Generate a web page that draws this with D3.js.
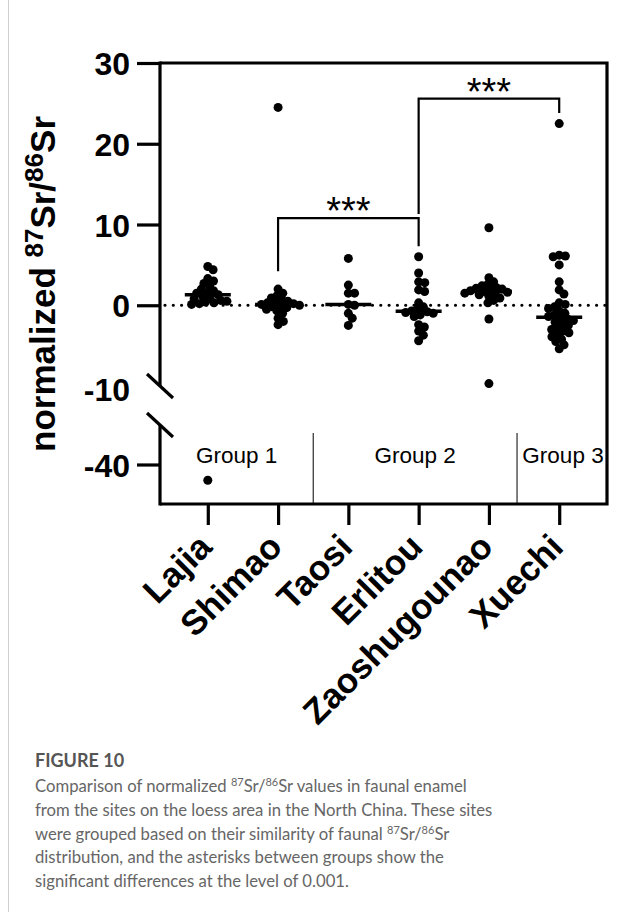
<!DOCTYPE html>
<html><head><meta charset="utf-8">
<script src="https://cdn.jsdelivr.net/npm/d3@7"></script>
<style>body{margin:0;background:#fff} svg{display:block}</style>
</head><body>
<svg id="c" width="617" height="912"></svg>
<script>
// ---------- data ----------
const sites = ["Lajia","Shimao","Taosi","Erlitou","Zaoshugounao","Xuechi"];
const lajia = [4.8,4.4,3.3,3.0,2.7,2.4,2.0,1.8,1.6,1.5,1.3,1.1,0.9,0.8,0.6,0.5,0.4,0.3,0.2,0.1,-42];
const shimao = [24.5,2.0,1.5,1.2,0.9,0.7,0.5,0.4,0.3,0.2,0.1,0.0,-0.1,-0.2,-0.3,-0.5,-0.7,-1.0,-1.6,-2.0,-2.4];
const taosi = [5.8,2.5,1.5,1.5,0.1,0.0,-1.0,-1.6,-2.5];
const erlitou = [6.0,4.0,2.9,2.8,1.9,1.7,0.3,-0.2,-0.5,-0.7,-0.8,-0.9,-1.0,-1.2,-1.4,-2.4,-2.7,-3.2,-3.7,-4.4];
const zaoshugounao = [9.6,3.4,2.9,2.6,2.4,2.2,2.1,2.0,1.9,1.8,1.7,1.6,1.5,1.4,1.3,1.1,0.9,0.6,0.3,-1.7,-9.7];
const xuechi = [22.5,6.2,6.1,6.0,5.0,2.9,1.9,1.4,0.3,0.1,-0.2,-0.4,-0.7,-1.0,-1.2,-1.4,-1.6,-1.7,-1.9,-2.1,-2.3,-2.5,-2.8,-3.0,-3.2,-3.4,-3.6,-3.9,-4.2,-4.5,-4.9,-5.4];
const siteValues = [lajia, shimao, taosi, erlitou, zaoshugounao, xuechi];
const upperTicks = [30,20,10,0,-10];
const lowerTicks = [-40];
const groupNames = ["Group 1","Group 2","Group 3"];
const groupBounds = [1.5, 4.4];           // boundaries between groups, in site-index units
const bracketFrom = ["Shimao","Erlitou"];
const bracketTo = ["Erlitou","Xuechi"];
const bracketTop = [10.8, 25.6];
const bracketLeftEnd = [4.2, 11.3];
const bracketRightEnd = [7.3, 23.8];
const bracketLabel = ["***","***"];

// ---------- layout ----------
const svg = d3.select("#c");
const F = "'Liberation Sans', Arial, sans-serif";
const L = 160, R = 607;
const yUp = d3.scaleLinear().domain([-10,30]).range([386,63]);
const yLow = d3.scaleLinear().domain([-45,-35]).range([504,425]);
const yv = v => v >= -10.5 ? yUp(v) : yLow(v);
const x = d3.scalePoint().domain(sites).range([L,R]).padding(0.68);
const step = x.step();
const xi = i => x(sites[0]) + i*step;

// left page border
svg.append("line").attr("x1",8.5).attr("x2",8.5).attr("y1",0).attr("y2",912)
  .attr("stroke","#cfcfcf").attr("stroke-width",1);

const g = svg.append("g");

// frame top / right / bottom
g.append("path").attr("d",`M${L},${yUp(30)}H${R}V${yLow(-45)}H${L}`)
  .attr("fill","none").attr("stroke","#000").attr("stroke-width",3.2);

// zero dotted line
g.append("line").attr("x1",L+5).attr("x2",R-2).attr("y1",yUp(0)).attr("y2",yUp(0))
  .attr("stroke","#000").attr("stroke-width",3.2).attr("stroke-linecap","round")
  .attr("stroke-dasharray","0 8.3");

// y axis (upper segment)
const ax1 = g.append("g").attr("transform",`translate(${L},0)`)
  .call(d3.axisLeft(yUp).tickValues(upperTicks).tickSize(23).tickPadding(7).tickFormat(d=>String(d)));
// y axis lower segment
const ax2 = g.append("g").attr("transform",`translate(${L},0)`)
  .call(d3.axisLeft(yLow).tickValues(lowerTicks).tickSize(23).tickPadding(7).tickFormat(d=>String(d)));
[ax1,ax2].forEach(a=>{
  a.select(".domain").remove();
  a.selectAll(".tick line").attr("stroke","#000").attr("stroke-width",3.2);
  a.selectAll(".tick text").attr("font-family",F).attr("font-weight","bold")
    .attr("font-size",32).attr("fill","#000").attr("dy","0.36em");
});
ax1.selectAll(".tick").filter(d=>d===-10).select("line").remove();
ax1.selectAll(".tick").filter(d=>d===-10).select("text").attr("dy","0.45em");

// axis segments
g.append("line").attr("x1",L).attr("x2",L).attr("y1",yUp(30)-1.5).attr("y2",yUp(-10))
  .attr("stroke","#000").attr("stroke-width",3.2);
g.append("line").attr("x1",L).attr("x2",L).attr("y1",yLow(-35)).attr("y2",yLow(-45)+1.5)
  .attr("stroke","#000").attr("stroke-width",3.2);
// break marks
[yUp(-10), yLow(-35)].forEach(cy=>{
  g.append("line").attr("x1",L-13).attr("y1",cy-12).attr("x2",L+13).attr("y2",cy+12)
    .attr("stroke","#000").attr("stroke-width",3.2);
});

// x axis
const axX = g.append("g").attr("transform",`translate(0,${yLow(-45)})`)
  .call(d3.axisBottom(x).tickSize(21).tickFormat(""));
axX.select(".domain").remove();
axX.selectAll(".tick line").attr("stroke","#000").attr("stroke-width",3.2);
g.selectAll(".xlab").data(sites).join("text").attr("class","xlab")
  .attr("transform",d=>`translate(${x(d)+6},549) rotate(-45)`)
  .attr("text-anchor","end").attr("font-family",F).attr("font-weight","bold")
  .attr("font-size",35).attr("fill","#000").text(d=>d);

// group dividers and labels
groupBounds.forEach(b=>{
  g.append("line").attr("x1",xi(b)).attr("x2",xi(b)).attr("y1",yLow(-35)+8).attr("y2",yLow(-45))
    .attr("stroke","#000").attr("stroke-width",1);
});
const gEdges = [L, ...groupBounds.map(xi), R];
groupNames.forEach((n,i)=>{
  g.append("text").attr("x",(gEdges[i]+gEdges[i+1])/2 + (i===2?1:0)).attr("y",463)
    .attr("text-anchor","middle").attr("font-family",F).attr("font-size",22.5)
    .attr("fill","#000").text(n);
});

// brackets
bracketFrom.forEach((f,i)=>{
  const x1 = x(f), x2 = x(bracketTo[i]);
  g.append("path").attr("d",`M${x1},${yUp(bracketLeftEnd[i])}V${yUp(bracketTop[i])}H${x2}V${yUp(bracketRightEnd[i])}`)
    .attr("fill","none").attr("stroke","#000").attr("stroke-width",2.2);
  g.append("text").attr("x",(x1+x2)/2).attr("y",yUp(bracketTop[i])+6)
    .attr("text-anchor","middle").attr("font-family",F).attr("font-size",38)
    .attr("fill","#000").text(bracketLabel[i]);
});

// swarm
const rDraw = 4.5, rCol = 3.1;
function swarm(vals){
  const pts = vals.map(v=>({v,y:yv(v)})).sort((a,b)=>b.v-a.v);
  const placed = [];
  pts.forEach(p=>{
    const cands=[0];
    placed.forEach(q=>{
      const dy=Math.abs(q.y-p.y);
      if(dy<2*rCol){const dx=Math.sqrt(4*rCol*rCol-dy*dy);cands.push(q.dx+dx,q.dx-dx);}
    });
    cands.sort((a,b)=>Math.abs(a)-Math.abs(b));
    for(const c of cands){
      if(placed.every(q=>(q.dx-c)**2+(q.y-p.y)**2>=4*rCol*rCol-0.01)){p.dx=c;break;}
    }
    placed.push(p);
  });
  return placed;
}
sites.forEach((s,i)=>{
  const pts = swarm(siteValues[i]);
  g.append("g").selectAll("circle").data(pts).join("circle")
    .attr("cx",d=>x(s)+d.dx).attr("cy",d=>d.y).attr("r",rDraw).attr("fill","#000");
  const m = d3.median(siteValues[i]);
  g.append("line").attr("x1",x(s)-23).attr("x2",x(s)+23).attr("y1",yUp(m)).attr("y2",yUp(m))
    .attr("stroke","#000").attr("stroke-width",3.5);
});

// y title
const yt = svg.append("text").attr("transform","translate(55,284) rotate(-90)")
  .attr("text-anchor","middle").attr("font-family",F).attr("font-weight","bold")
  .attr("font-size",35).attr("fill","#000");
yt.append("tspan").text("normalized ");
yt.append("tspan").attr("font-size",26).attr("dy",-12).text("87");
yt.append("tspan").attr("dy",12).text("Sr/");
yt.append("tspan").attr("font-size",26).attr("dy",-12).text("86");
yt.append("tspan").attr("dy",12).text("Sr");

// caption
const CF = "Lato, 'Open Sans', sans-serif";
svg.append("text").attr("x",35).attr("y",767).attr("font-family",CF).attr("font-weight","bold")
  .attr("font-size",18).attr("fill","#555").text("FIGURE 10");
const capLines = [
  ["Comparison of normalized ",["87"],"Sr/",["86"],"Sr values in faunal enamel"],
  ["from the sites on the loess area in the North China. These sites"],
  ["were grouped based on their similarity of faunal ",["87"],"Sr/",["86"],"Sr"],
  ["distribution, and the asterisks between groups show the"],
  ["significant differences at the level of 0.001."]
];
capLines.forEach((ln,i)=>{
  const t = svg.append("text").attr("x",35).attr("y",792+i*23.8).attr("font-family",CF)
    .attr("font-size",16.7).attr("fill","#666");
  let up=false;
  ln.forEach(part=>{
    if(Array.isArray(part)){ t.append("tspan").attr("font-size",11).attr("dy",up?0:-6).text(part[0]); up=true; }
    else { t.append("tspan").attr("dy",up?6:0).text(part); up=false; }
  });
});
</script>
</body></html>
